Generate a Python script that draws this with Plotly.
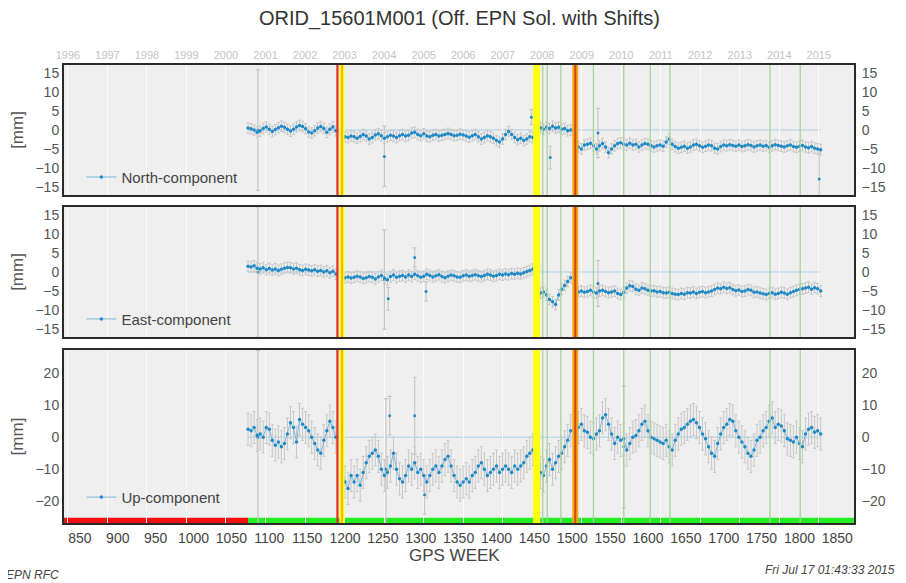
from datetime import date

import plotly.graph_objects as go

# === DATA (values in mm) ===
weeks_seg1 = list(range(1072, 1189, 4))
weeks_seg2 = list(range(1196, 1449, 4))
weeks_seg3 = list(range(1458, 1499, 4))
weeks_seg4 = list(range(1508, 1829, 4))

north_seg1 = [0.5, 0.3, 0.0, -0.6, -0.3, 0.4, 0.8, 0.2, -0.4, 0.1, 0.6, 1.0, 0.7, 0.2, -0.3,
              0.2, 0.8, 1.2, 0.9, 0.3, -0.5, -0.8, -0.2, 0.5, 0.9, 0.4, -0.6, 0.2, 0.8, -0.2]
north_seg2 = [-1.5, -1.8, -2.0, -1.6, -1.8, -2.2, -1.7, -1.2, -1.6, -2.4, -2.0, -1.3, -1.0, -1.5,
              -2.2, -1.8, -1.4, -1.6, -2.0, -1.5, -1.2, -1.6, -1.4, -0.8, -0.6, -1.2, -1.5, -1.0,
              -1.6, -1.8, -1.4, -1.2, -1.6, -1.4, -1.2, -0.9, -1.2, -1.5, -1.4, -1.1, -1.3, -1.6,
              -1.9, -1.5, -1.2, -1.8, -2.4, -2.0, -1.5, -1.8, -2.2, -2.8, -3.2, -2.4, -1.2, -0.4,
              -1.2, -2.0, -2.6, -2.2, -2.8, -2.4, -1.8, -2.0]
north_seg3 = [0.6, 0.2, 0.8, 0.4, 1.0, 0.5, 0.7, 0.2, 0.4, -0.2, 0.0]
north_seg4 = [-4.5, -5.0, -4.0, -3.8, -3.5, -4.2, -5.0, -4.2, -3.6, -4.5, -6.0, -5.0, -4.2, -3.6,
              -3.4, -3.8, -4.0, -3.5, -4.0, -3.8, -4.5, -4.0, -3.6, -3.8, -4.2, -4.5, -4.2, -4.0,
              -4.3, -3.2, -2.4, -3.8, -4.4, -4.8, -4.6, -4.3, -4.8, -4.5, -4.0, -3.8, -4.2, -4.6,
              -4.3, -4.0, -4.2, -4.8, -5.0, -4.4, -4.0, -4.2, -3.9, -4.1, -4.3, -4.0, -4.4, -4.2,
              -3.9, -4.1, -4.5, -4.2, -4.0, -4.3, -4.1, -4.6, -4.2, -3.9, -4.1, -4.3, -4.5, -4.2,
              -4.0, -4.4, -4.6, -4.3, -4.1, -4.5, -4.7, -4.4, -4.8, -5.0, -5.2]

east_seg1 = [1.5, 1.3, 1.6, 1.0, 0.8, 1.1, 0.6, 0.9, 0.5, 0.8, 0.4, 0.7, 1.0, 1.2, 1.1,
             0.8, 1.0, 0.6, 0.4, 0.7, 0.5, 0.3, 0.6, 0.2, 0.4, 0.0, 0.3, -0.2, 0.2, -0.5]
east_seg2 = [-1.2, -1.5, -1.3, -1.6, -1.4, -1.1, -1.3, -1.7, -1.5, -1.2, -1.4, -1.8, -1.3, -0.9,
             -1.6, -2.0, -1.2, -0.8, -1.4, -1.1, -0.9, -1.3, -0.8, -1.2, -0.6, -1.0, -1.4, -1.1,
             -0.6, -0.9, -1.3, -1.0, -0.7, -1.2, -1.5, -1.1, -0.8, -1.0, -1.3, -1.4, -1.0, -0.8,
             -1.1, -0.9, -0.7, -1.0, -1.2, -0.9, -0.6, -0.8, -1.1, -0.9, -0.6, -0.8, -0.5, -0.7,
             -0.4, -0.6, -0.3, -0.5, -0.2, 0.1, 0.4, 0.8]
east_seg3 = [-5.5, -5.2, -6.0, -7.2, -7.8, -8.5, -6.0, -4.5, -3.5, -2.5, -1.5]
east_seg4 = [-5.2, -5.0, -5.3, -5.1, -4.8, -5.2, -5.5, -5.0, -4.8, -5.1, -5.4, -5.2, -5.0, -5.6,
             -5.9, -5.3, -4.2, -3.6, -3.8, -4.5, -4.8, -4.2, -4.4, -4.8, -5.0, -4.9, -5.2, -5.1,
             -5.4, -5.5, -5.3, -5.6, -5.8, -5.9, -5.6, -5.8, -5.4, -5.5, -5.2, -5.6, -5.3, -5.1,
             -5.4, -5.2, -5.0, -4.6, -4.2, -4.4, -4.0, -4.3, -4.1, -4.6, -4.9, -4.7, -5.1, -5.0,
             -4.6, -4.8, -5.3, -5.2, -5.5, -5.7, -5.9, -5.6, -5.4, -5.8, -5.6, -5.3, -5.5, -5.8,
             -5.4, -5.1, -4.8, -4.6, -4.4, -4.2, -4.0, -4.5, -4.1, -4.4, -5.0]

up_seg1 = [2.5, 2.0, 3.0, 0.5, 1.0, 0.0, 3.0, 2.5, -1.0, -2.5, -1.5, -3.0, -2.0, 1.0, 4.5,
           3.0, -1.5, 5.5, 4.0, 3.0, 2.0, 0.0, -2.0, -4.0, -5.0, -1.0, 2.0, 5.0, 3.0, 0.0]
up_seg2 = [-10, -14, -16, -12, -14, -12, -15, -11, -8, -6, -5, -4, -6, -10, -12, -11, -9, -5,
           -10, -13, -14, -12, -9, -10, -8, -11, -10, -12, -14, -12, -10, -9, -11, -9, -7, -6,
           -9, -12, -14, -15, -14, -13, -14, -12, -11, -9, -8, -10, -12, -11, -10, -9, -11, -10,
           -9, -10, -11, -9, -10, -9, -8, -6, -5, -4]
up_seg3 = [-11, -12, -9, -7, -10, -8, -6, -5, -3, -1, 2]
up_seg4 = [3, 4, 2, 1.5, 0, -0.5, 1, 2, 6, 7, 4, 1, -2, 0, -1, -0.5, -4, -2, 0, 0.5, 2, 4, 5, 2,
           0, -0.5, -1, -1.5, -2, -1, -3, -4, -1, 1, 2.5, 3, 4, 5, 5.5, 4.5, 3, 1, -0.5, -3, -5,
           -6, -2, 1, 3, 4, 5.5, 5, 2, 0, -1.5, -3, -5, -6, -4, -1, 0, 2, 3, 5, 6, 3, 4, 3.5, 2,
           -0.5, -1, -1.5, 0, -2, -3, 1, 2.5, 3, 1.5, 2, 1]

north_sigma = 1.4
east_sigma = 1.4
up_sigma = 5.0

# single solutions with large formal errors
north_out_weeks = [1085, 1252, 1446, 1471, 1534, 1826]
north_out_vals = [0, -7, 3.4, -7.3, -0.8, -13]
north_out_sig = [16, 8, 2, 3, 6.5, 8]
east_out_weeks = [1085, 1252, 1257, 1292, 1307, 1534]
east_out_vals = [0, -2, -7, 3.8, -5.1, -3]
east_out_sig = [17, 13, 3, 2.5, 2.5, 6]
up_out_weeks = [1085, 1254, 1259, 1292, 1305, 1568]
up_out_vals = [0, -10, 6.7, 6.7, -18, -3]
up_out_sig = [27, 22, 6, 12, 6, 19]

# discontinuities / equipment changes (GPS week)
red_events = [1190]
yellow_events = [1196, 1453]
orange_events = [1504]
green_events = [1461, 1467, 1485, 1528, 1568, 1603, 1629, 1761, 1801]

# station status bar
status_start = [829, 1072]
status_end = [1072, 1872]
status_color = ['#f01010', '#22ee22']

years = list(range(1996, 2016))
year_weeks = [(date(y, 1, 1) - date(1980, 1, 6)).days / 7 for y in years]
gps_ticks = list(range(850, 1851, 50))

XR = [829, 1872]
FONT = 'Liberation Sans, Arial, sans-serif'
BLUE = '#1f8ac6'
GRAY = '#c6c6c6'

def join(segs):
    out = []
    for s in segs:
        out += list(s) + [None]
    return out[:-1]

all_weeks = join([weeks_seg1, weeks_seg2, weeks_seg3, weeks_seg4])
components = [
    ('North-component', join([north_seg1, north_seg2, north_seg3, north_seg4]), north_sigma,
     north_out_weeks, north_out_vals, north_out_sig),
    ('East-component', join([east_seg1, east_seg2, east_seg3, east_seg4]), east_sigma,
     east_out_weeks, east_out_vals, east_out_sig),
    ('Up-component', join([up_seg1, up_seg2, up_seg3, up_seg4]), up_sigma,
     up_out_weeks, up_out_vals, up_out_sig),
]

# panel layout (paper fractions)
domains = [[0.7162, 1.0], [0.4061, 0.69], [0.0, 0.3777]]
yranges = [[-17.2, 17.2], [-17.0, 17.0], [-26.8, 27.2]]
yticks = [list(range(-15, 16, 5)), list(range(-15, 16, 5)), list(range(-20, 21, 10))]
legend_y = [0.755, 0.445, 0.056]

fig = go.Figure()
for i, (name, vals, sig, ow, ov, osg) in enumerate(components):
    xa = 'x' if i == 0 else f'x{i+1}'
    ya = 'y' if i == 0 else f'y{i+1}'
    leg = 'legend' if i == 0 else f'legend{i+1}'
    fig.add_trace(go.Scatter(
        x=ow, y=ov, mode='markers', xaxis=xa, yaxis=ya, showlegend=False,
        marker=dict(size=3, color=BLUE),
        error_y=dict(type='data', array=osg, color=GRAY, thickness=1.2, width=2)))
    fig.add_trace(go.Scatter(
        x=all_weeks, y=vals, name=name, mode='lines+markers', xaxis=xa, yaxis=ya,
        legend=leg, line=dict(color='#5aa8d8', width=0.8),
        marker=dict(size=3.5, color=BLUE),
        error_y=dict(type='data', array=[sig] * len(all_weeks), color=GRAY,
                     thickness=1, width=1.5)))
    # carrier traces so the right-hand mirror axes get drawn
    fig.add_trace(go.Scatter(x=[None], y=[None], xaxis=xa, yaxis=f'y{i+4}',
                             showlegend=False, hoverinfo='skip'))
fig.add_trace(go.Scatter(x=[None], y=[None], xaxis='x4', yaxis='y3',
                         showlegend=False, hoverinfo='skip'))

shapes = []
for i in range(3):
    xa = 'x' if i == 0 else f'x{i+1}'
    ya = 'y' if i == 0 else f'y{i+1}'
    # zero reference
    shapes.append(dict(type='line', xref=xa, yref=ya, x0=1072, x1=1828, y0=0, y1=0,
                       line=dict(color='#a9cde6', width=1), layer='below'))
    for w in green_events:
        shapes.append(dict(type='line', xref=xa, yref=f'{ya} domain', x0=w, x1=w, y0=0, y1=1,
                           line=dict(color='#a6d49a', width=1.3)))
    for w in red_events:
        shapes.append(dict(type='line', xref=xa, yref=f'{ya} domain', x0=w, x1=w, y0=0, y1=1,
                           line=dict(color='#e2301e', width=2.2)))
    for w in yellow_events:
        wid = 7 if w > 1300 else 5
        shapes.append(dict(type='line', xref=xa, yref=f'{ya} domain', x0=w, x1=w, y0=0, y1=1,
                           line=dict(color='#ffff10', width=wid)))
        if w < 1300:
            shapes.append(dict(type='line', xref=xa, yref=f'{ya} domain', x0=w, x1=w, y0=0,
                               y1=1, line=dict(color='#f0a020', width=1.5)))
    for w in orange_events:
        shapes.append(dict(type='line', xref=xa, yref=f'{ya} domain', x0=w, x1=w, y0=0, y1=1,
                           line=dict(color='#f5a818', width=6)))
        shapes.append(dict(type='line', xref=xa, yref=f'{ya} domain', x0=w, x1=w, y0=0, y1=1,
                           line=dict(color='#cc4a10', width=2)))

for s0, s1, c in zip(status_start, status_end, status_color):
    shapes.append(dict(type='rect', xref='x3', yref='y3', x0=s0, x1=s1, y0=-26.8, y1=-25.2,
                       line=dict(width=0), fillcolor=c, layer='below'))

# page body has an 8px margin, so the figure is offset by 8px in the window
layout = dict(
    width=890, height=575,
    margin=dict(l=56, r=44, t=57, b=60, autoexpand=False),
    paper_bgcolor='white', plot_bgcolor='#efefef',
    font=dict(family=FONT, size=14, color='#444'),
    shapes=shapes,
    xaxis4=dict(overlaying='x3', anchor='y3', range=XR, side='bottom',
                tickvals=gps_ticks, showgrid=False, zeroline=False, showline=False,
                ticks='outside', ticklen=2, tickcolor='rgba(0,0,0,0)',
                tickfont=dict(size=14, color='#444')),
)
for i in range(3):
    sfx = '' if i == 0 else str(i + 1)
    layout['xaxis' + sfx] = dict(
        domain=[0, 1], anchor='y' + sfx, range=XR, tickvals=year_weeks,
        ticktext=[str(y) for y in years], showticklabels=(i == 0), side='top',
        tickfont=dict(size=11, color='#c4c4c4'),
        ticks='', showgrid=True, gridcolor='#fbfbfb', gridwidth=1, zeroline=False,
        showline=True, mirror=True, linecolor='#2a2a2a', linewidth=2)
    if i > 0:
        layout['xaxis' + sfx]['matches'] = 'x'
    layout['yaxis' + sfx] = dict(
        domain=domains[i], anchor='x' + sfx, range=yranges[i], tickvals=yticks[i],
        showgrid=False, zeroline=False, showline=True, mirror=True, linecolor='#2a2a2a',
        linewidth=2, ticks='', tickfont=dict(size=14, color='#555'),
        title=dict(text='[mm]', font=dict(size=17, color='#555'), standoff=12))
    layout['yaxis' + str(i + 4)] = dict(
        overlaying='y' + sfx, anchor='x' + sfx, side='right',
        range=yranges[i], tickvals=yticks[i], showgrid=False, zeroline=False, showline=False,
        ticks='outside', ticklen=4, tickcolor='rgba(0,0,0,0)',
        tickfont=dict(size=14, color='#555'))
    layout['legend' + sfx] = dict(
        x=0.022, y=legend_y[i], xanchor='left', yanchor='middle', bgcolor='rgba(0,0,0,0)',
        font=dict(size=15, color='#444'), itemwidth=30)

fig.update_layout(**layout)

fig.add_annotation(text='ORID_15601M001 (Off. EPN Sol. with Shifts)', xref='paper', yref='paper',
                   x=0.5, y=1.1026, yanchor='middle', showarrow=False,
                   font=dict(size=20, color='#333'))
fig.add_annotation(text='GPS WEEK', xref='paper', yref='paper', x=0.494, y=-0.072,
                   yanchor='middle', showarrow=False, font=dict(size=17, color='#444'))
fig.add_annotation(text='<i>EPN RFC</i>', xref='paper', yref='paper', x=-0.076, y=-0.1135,
                   xanchor='left', yanchor='middle', showarrow=False,
                   font=dict(size=12, color='#444'))
fig.add_annotation(text='<i>Fri Jul 17 01:43:33 2015</i>', xref='paper', yref='paper',
                   x=1.0544, y=-0.102, xanchor='right', yanchor='middle', showarrow=False,
                   font=dict(size=12, color='#444'))

fig.write_html("out.html")
